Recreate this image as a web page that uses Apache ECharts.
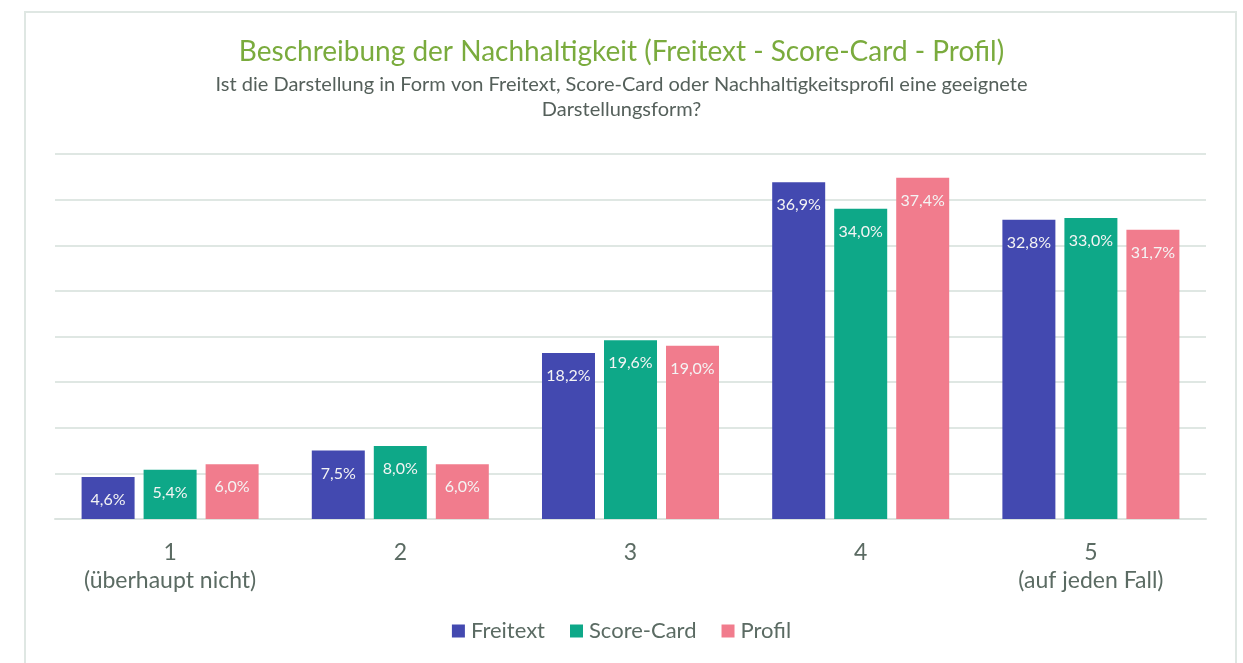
<!DOCTYPE html>
<html>
<head>
<meta charset="utf-8">
<script src="https://cdn.jsdelivr.net/npm/echarts@6/dist/echarts.min.js"></script>
<style>
  html, body { margin: 0; padding: 0; background: #fff; }
  #chart { width: 1243px; height: 663px; }
</style>
</head>
<body>
<div id="chart"></div>
<script>
// Daten
const categories = ['1\n(überhaupt nicht)', '2', '3', '4', '5\n(auf jeden Fall)'];
const freitext = [4.6, 7.5, 18.2, 36.9, 32.8];
const scoreCard = [5.4, 8.0, 19.6, 34.0, 33.0];
const profil = [6.0, 6.0, 19.0, 37.4, 31.7];
const seriesNames = ['Freitext', 'Score-Card', 'Profil'];
const colors = ['#4349b0', '#0ea888', '#f17c8d'];

const font = 'Lato, "Open Sans", sans-serif';

(function () {
  let myChart = echarts.init(document.getElementById('chart'));

  // Beschriftung in den Balken
  function barLabel() {
    return {
      show: true,
      position: 'insideTop',
      distance: 15,
      color: '#f4f4f4',
      fontSize: 16,
      fontFamily: font,
      formatter: function (p) {
        return p.value.toFixed(1).replace('.', ',') + '%';
      }
    };
  }

  const seriesData = [freitext, scoreCard, profil];

  let option = {
    color: colors,
    animation: false,
    graphic: [
      {
        type: 'rect',
        shape: { x: 25, y: 12, width: 1211, height: 680 },
        style: { fill: 'none', stroke: '#dfe7e3', lineWidth: 2 }
      }
    ],
    title: {
      text: 'Beschreibung der Nachhaltigkeit (Freitext - Score-Card - Profil)',
      subtext: 'Ist die Darstellung in Form von Freitext, Score-Card oder Nachhaltigkeitsprofil eine geeignete\nDarstellungsform?',
      left: 'center',
      top: 33,
      itemGap: 6,
      textStyle: {
        color: '#7aab3d',
        fontSize: 28,
        fontWeight: 'normal',
        fontFamily: font
      },
      subtextStyle: {
        color: '#55605b',
        fontSize: 20,
        lineHeight: 25,
        fontFamily: font
      }
    },
    legend: {
      data: seriesNames,
      bottom: 16,
      left: 'center',
      itemWidth: 13,
      itemHeight: 13,
      itemGap: 25,
      icon: 'rect',
      textStyle: { color: '#5b6b63', fontSize: 22, fontFamily: font, padding: [0, 0, 0, 1] }
    },
    grid: {
      left: 55,
      right: 37,
      top: 154,
      bottom: 144,
      containLabel: false
    },
    xAxis: {
      type: 'category',
      data: categories,
      axisTick: { show: false },
      axisLine: { lineStyle: { color: '#dbe3df', width: 2 } },
      axisLabel: {
        color: '#5b6b63',
        fontSize: 23,
        lineHeight: 28,
        margin: 20,
        fontFamily: font
      }
    },
    yAxis: {
      type: 'value',
      min: 0,
      max: 40,
      interval: 5,
      axisLabel: { show: false },
      axisLine: { show: false },
      axisTick: { show: false },
      splitLine: { lineStyle: { color: '#dfe7e3', width: 2 } }
    },
    series: seriesNames.map(function (name, i) {
      return {
        name: name,
        type: 'bar',
        data: seriesData[i],
        barWidth: 53,
        barGap: '17%',
        barCategoryGap: '23%',
        label: barLabel()
      };
    })
  };

  myChart.setOption(option);
  window.addEventListener('resize', function () {
    myChart.resize();
  });
})();
</script>
</body>
</html>
